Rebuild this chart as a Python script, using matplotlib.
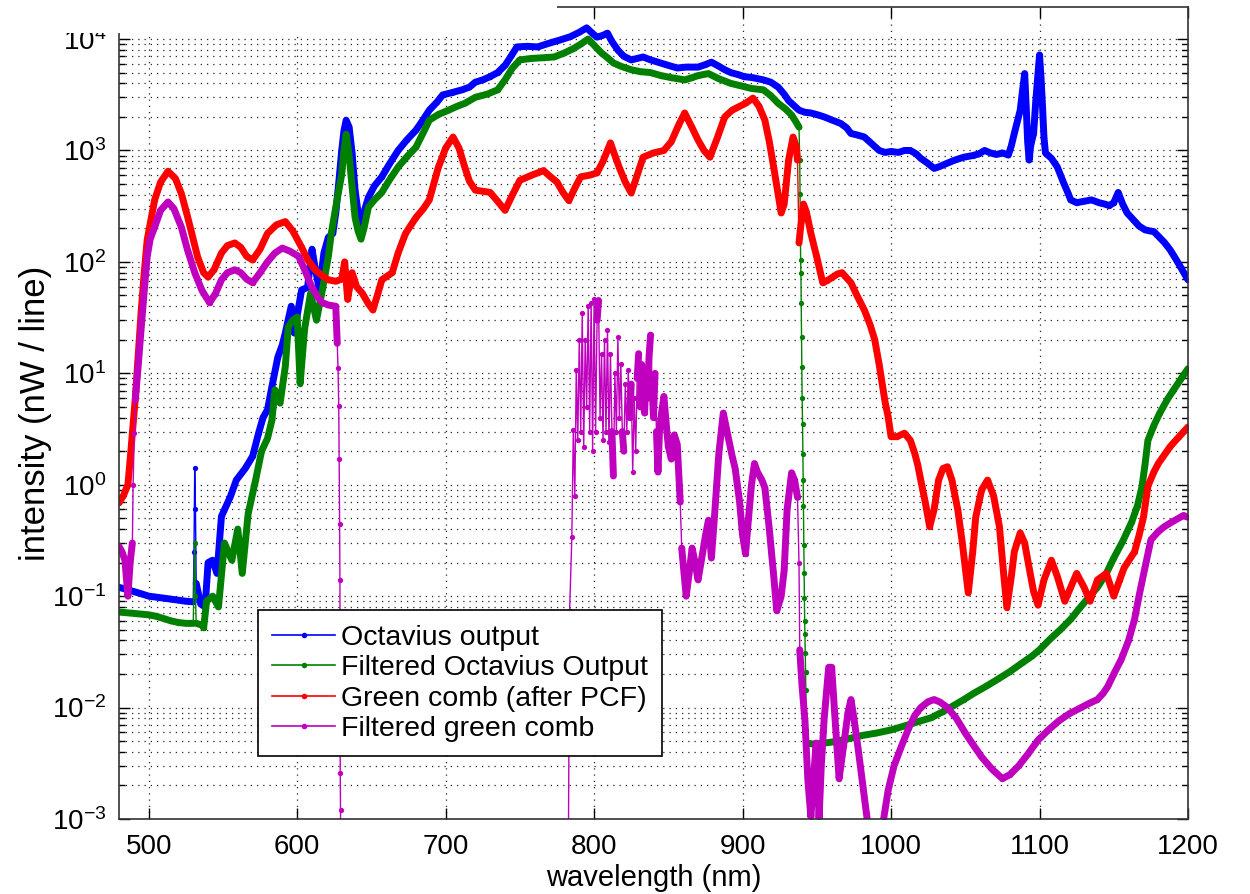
import matplotlib
matplotlib.use("Agg")
import matplotlib.pyplot as plt
import numpy as np
from matplotlib.lines import Line2D
from matplotlib.patches import Rectangle
from matplotlib.ticker import LogLocator, NullFormatter

plt.rcParams['font.family'] = ['Liberation Sans', 'DejaVu Sans']
plt.rcParams['mathtext.default'] = 'regular'

# --- data (wavelength nm, intensity nW/line) ---
blue_x = [480, 485, 490, 495, 500, 505, 510, 515, 520, 525, 530, 530.5, 531, 531.5, 532, 535, 538,
          540, 543, 546, 549, 555, 559, 565, 570, 574, 577, 580, 583, 587, 590, 592, 596, 598, 603,
          607, 610, 612, 615, 618, 621, 624, 626, 628, 630, 631.5, 633, 635, 637, 639, 641, 643, 645,
          648, 652, 657, 662, 668, 674, 680, 685, 689, 694, 698, 704, 711, 716, 720, 725, 730, 735,
          740, 744, 748, 755, 762, 770, 777, 784, 790, 795, 799, 802, 806, 809, 812, 816, 820, 825,
          829, 833, 838, 843, 850, 856, 862, 866, 870, 875, 879, 884, 888, 892, 897, 901, 907, 914,
          919, 924, 928, 931, 935, 938, 942, 946, 950, 955, 960, 966, 970, 973, 977, 982, 987, 992,
          996, 1000, 1005, 1009, 1013, 1017, 1020, 1024, 1029, 1033, 1038, 1043, 1049, 1055, 1059,
          1063, 1067, 1071, 1075, 1079, 1081, 1083, 1085, 1087, 1088.5, 1090, 1091, 1092, 1093, 1094,
          1096, 1097.5, 1099, 1100, 1101, 1102, 1103, 1104, 1108, 1112, 1116, 1119, 1121, 1125, 1130,
          1135, 1140, 1144, 1147, 1150, 1153, 1156, 1159, 1163, 1167, 1171, 1174, 1177, 1180, 1184,
          1188, 1192, 1196, 1200]
blue_y = [0.12, 0.115, 0.11, 0.105, 0.1, 0.098, 0.096, 0.094, 0.092, 0.09, 0.089, 0.25, 1.4, 0.6,
          0.13, 0.085, 0.08, 0.2, 0.21, 0.16, 0.52, 0.78, 1.1, 1.4, 1.8, 2.9, 4.0, 4.7, 7.6, 14, 18,
          23, 40, 23, 56, 59, 130, 90, 56, 120, 166, 180, 275, 510, 1000, 1500, 1870, 1620, 950, 440,
          280, 222, 280, 380, 480, 580, 750, 1000, 1250, 1520, 1900, 2300, 2700, 3150, 3300, 3500,
          3700, 4100, 4300, 4600, 5000, 5800, 7000, 8500, 8600, 8500, 9200, 9800, 10500, 11500, 12600,
          11200, 10400, 10800, 11300, 9500, 7950, 7000, 6500, 6700, 6900, 6500, 6200, 5800, 5500,
          5600, 5600, 5600, 5900, 6200, 5700, 5300, 5000, 4800, 4600, 4500, 4300, 4100, 3700, 3200,
          2800, 2500, 2300, 2200, 2170, 2100, 2000, 1880, 1750, 1600, 1420, 1380, 1320, 1150, 1000,
          960, 980, 960, 1000, 1000, 930, 850, 780, 690, 720, 770, 820, 870, 900, 930, 1000, 950, 920,
          950, 910, 1100, 1420, 1800, 2300, 3400, 4900, 2500, 1200, 820, 1100, 1420, 2800, 5000, 7200,
          4500, 2500, 1300, 950, 850, 710, 520, 420, 360, 340, 350, 360, 340, 330, 320, 340, 420, 330,
          275, 240, 210, 194, 190, 187, 170, 150, 128, 105, 85, 69]

green_x = [480, 490, 500, 505, 510, 515, 520, 525, 530, 531, 531.5, 532, 536, 537, 539, 543, 547, 551,
           556, 560, 563, 567, 572, 576, 580, 583, 585, 588.5, 592, 594, 597, 600, 602, 605, 609, 613,
           617, 621, 623, 626, 630, 631.5, 633, 635, 637, 639, 641, 643, 645, 648, 652, 657, 662, 668,
           674, 680, 685, 689, 695, 702, 708, 713, 720, 728, 735, 740, 745, 750, 758, 766, 773, 780,
           786, 791, 796, 800, 805, 809, 813, 818, 825, 831, 838, 845, 852, 861, 866, 870, 877, 884,
           892, 899, 906, 914, 919, 924, 929, 933, 936, 938, 938.5, 938.7, 938.9, 939.1, 939.3, 939.5,
           939.7, 939.9, 940.1, 940.4, 940.6, 940.8, 941.0, 941.2, 941.4, 941.6, 941.8, 942.0, 942.2,
           942.4, 942.6, 942.8, 943, 948, 955, 960, 970, 980, 990, 1000, 1010, 1020, 1027, 1035, 1042,
           1049, 1056, 1064, 1072, 1080, 1088, 1095, 1100, 1107, 1114, 1121, 1127, 1133, 1139, 1145,
           1150, 1156, 1162, 1166, 1169, 1171, 1173, 1177, 1181, 1186, 1190, 1195, 1200]
green_y = [0.072, 0.07, 0.068, 0.066, 0.063, 0.06, 0.058, 0.057, 0.057, 0.3, 0.1, 0.057, 0.055, 0.052,
           0.09, 0.1, 0.08, 0.3, 0.21, 0.4, 0.16, 0.55, 1.1, 2.0, 2.6, 3.8, 7.1, 5.4, 11.5, 26, 30, 32,
           8.1, 25, 52, 30, 56, 112, 180, 310, 610, 1000, 1400, 900, 470, 250, 190, 160, 200, 310, 360,
           420, 540, 710, 880, 1070, 1450, 1870, 2100, 2300, 2500, 2650, 3000, 3200, 3500, 4300, 5500,
           6500, 6700, 6800, 6900, 7500, 8200, 9000, 10000, 8800, 7500, 6800, 6100, 5700, 5300, 5100,
           5000, 4700, 4500, 4300, 4500, 4700, 4900, 4400, 4000, 3800, 3600, 3500, 3100, 2650, 2350,
           2080, 1800, 1620, 820, 410, 195, 104, 79, 43, 21, 11.5, 6, 3.5, 1.9, 1.1, 0.65, 0.29, 0.16,
           0.096, 0.06, 0.046, 0.031, 0.021, 0.0145, 0.0063, 0.0048, 0.0047, 0.0048, 0.0049, 0.0052,
           0.0056, 0.0059, 0.0063, 0.0069, 0.0076, 0.0081, 0.0092, 0.0104, 0.0118, 0.0135, 0.0155,
           0.018, 0.021, 0.025, 0.029, 0.033, 0.041, 0.05, 0.062, 0.078, 0.097, 0.12, 0.16, 0.22, 0.31,
           0.46, 0.65, 0.96, 1.5, 2.5, 3.4, 4.4, 5.8, 7.0, 8.8, 11]

red_x = [480, 483, 486, 488, 489, 491, 493, 495, 497, 499, 504, 508, 513, 518, 522, 526, 529, 533, 537,
         540, 544, 549, 553, 558, 562, 566, 570, 575, 580, 586, 592, 597, 603, 607, 612, 617, 621, 626,
         630, 632, 634, 637, 640, 644, 648, 651, 654, 657, 664, 668, 673, 680, 685, 689, 695, 700, 705,
         709, 713, 716, 720, 725, 730, 735, 740, 745, 750, 758, 766, 770, 775, 779, 783, 787, 791, 797,
         802, 806, 811, 814, 817, 821, 825, 829, 833, 840, 847, 852, 857, 861, 866, 870, 874, 878, 883,
         888, 893, 897, 902, 907, 911, 915, 918, 921, 924, 926, 928, 931, 934, 936, 937, 938, 939, 941,
         943, 946, 950, 954, 957, 960, 964, 967, 970, 973, 977, 982, 986, 989, 992, 994, 996, 998, 1000,
         1004, 1009, 1013, 1016, 1018, 1020, 1023, 1026, 1029, 1032, 1035, 1038, 1041, 1045, 1048, 1052,
         1055, 1057, 1061, 1065, 1069, 1073, 1076, 1078, 1081, 1083, 1087, 1090, 1093, 1096, 1099, 1103,
         1108, 1112, 1117, 1121, 1125, 1130, 1134, 1139, 1145, 1150, 1154, 1157, 1164, 1167, 1170, 1173,
         1177, 1180, 1188, 1194, 1200]
red_y = [0.69, 0.8, 1.0, 2.0, 2.9, 6.0, 15, 37, 80, 158, 360, 520, 650, 560, 410, 260, 180, 110, 80,
         73, 85, 120, 140, 148, 135, 112, 104, 130, 180, 215, 230, 190, 135, 105, 85, 75, 69, 67, 70,
         100, 46, 80, 60, 52, 42, 37, 50, 69, 80, 120, 180, 250, 300, 360, 700, 1050, 1320, 1050, 700,
         530, 440, 430, 420, 350, 290, 400, 540, 600, 660, 590, 520, 420, 355, 460, 580, 600, 630, 800,
         1170, 900, 700, 520, 415, 600, 870, 950, 1000, 1200, 1700, 2170, 1600, 1240, 1000, 870, 1300,
         2000, 2300, 2450, 2650, 2950, 2500, 1870, 1200, 700, 400, 275, 330, 820, 1320, 1100, 820, 148,
         200, 330, 280, 180, 110, 65, 68, 72, 78, 80, 72, 65, 50, 37, 27, 20, 12, 8.1, 5.5, 4.1, 2.7,
         2.7, 2.9, 2.5, 1.9, 1.5, 1.1, 0.7, 0.42, 0.6, 1.1, 1.4, 1.45, 1.1, 0.59, 0.3, 0.107, 0.25,
         0.51, 0.9, 1.1, 0.8, 0.42, 0.15, 0.079, 0.15, 0.25, 0.37, 0.3, 0.18, 0.11, 0.083, 0.14, 0.21,
         0.15, 0.09, 0.12, 0.16, 0.12, 0.09, 0.14, 0.16, 0.1, 0.14, 0.18, 0.25, 0.35, 0.51, 0.97, 1.3,
         1.55, 2.2, 2.7, 3.3]

mag_x = [480, 482, 484, 486, 487.5, 489, 489.5, 490.3, 491, 493, 495, 497, 499, 501, 504, 508, 513, 517,
         522, 526, 531, 536, 541, 545, 549, 553, 558, 562, 566, 570, 575, 580, 585, 590, 595, 601, 605,
         610, 614, 617, 621, 626, 627, 627.5, 628, 628.3, 628.6, 628.8, 629, 629.2, 630, 782, 783.5,
         785, 786, 787, 788, 789, 790, 791, 792, 793, 794, 795, 796, 797, 798, 799, 800, 801, 802, 803,
         804, 805, 806, 807, 808, 809, 810, 811, 812, 813, 814, 815, 816, 817, 818, 819, 820, 821, 822,
         823, 824, 825, 826, 827, 828, 829, 830, 831, 832, 833, 834, 835, 836, 837, 838, 839, 840, 841,
         842, 843, 844, 845, 847, 849, 850, 852, 854, 856, 858, 859, 862, 864, 866, 868, 870, 872, 875,
         877, 879, 881, 884, 887, 890, 893, 895, 898, 900, 902, 904, 906, 908, 910, 913, 915, 918, 921,
         923, 926, 928, 930, 933, 935, 937, 938, 938.5, 940, 942, 944, 946, 948, 949.5, 950.5, 951.5,
         953, 955, 958, 960, 962, 965, 968, 971, 973, 975, 978, 981, 983.5, 989, 995, 998, 1002, 1007,
         1012, 1016, 1020, 1025, 1029, 1033, 1038, 1044, 1050, 1055, 1061, 1068, 1075, 1080, 1086, 1092,
         1099, 1106, 1113, 1120, 1128, 1134, 1139, 1143, 1146, 1150, 1155, 1160, 1164, 1167, 1171, 1175,
         1180, 1184, 1190, 1197, 1200]
mag_y = [0.28, 0.25, 0.21, 0.1, 0.2, 0.3, 1.0, 2.9, 5.8, 12, 26, 55, 112, 160, 205, 290, 345, 300, 205,
         130, 80, 55, 43, 52, 69, 80, 85, 80, 70, 65, 80, 100, 120, 133, 125, 112, 85, 59, 48, 43, 41,
         40, 18.6, 11.2, 5.1, 1.7, 0.44, 0.14, 0.0026, 0.0012, 1e-5, 1e-5, 0.074, 0.34, 3.1, 0.8, 10.7,
         2.5, 20, 3, 35, 2.2, 20, 5, 40, 3, 43, 2.0, 46, 3, 30, 45, 4, 15, 2.5, 20, 3, 24.6, 2.4, 15, 3,
         1.2, 10, 3, 21, 4, 12, 3, 2.0, 8, 3, 10.7, 4, 8, 1.3, 6, 2, 9, 15, 5, 12, 6, 4.4, 10, 6, 14, 22,
         8, 4, 10, 3, 1.3, 3, 4, 6.2, 3, 2.2, 1.7, 2.8, 2.3, 0.7, 0.27, 0.1, 0.16, 0.27, 0.2, 0.14, 0.2,
         0.35, 0.48, 0.22, 0.5, 1.9, 4.4, 2.8, 1.8, 1.4, 0.7, 0.35, 0.24, 0.5, 1.0, 1.55, 1.3, 1.1, 0.94,
         0.4, 0.15, 0.074, 0.1, 0.17, 0.6, 1.28, 1.1, 0.77, 0.2, 0.033, 0.016, 0.0076, 0.0022, 0.00104,
         0.0025, 0.0048, 0.0025, 0.001, 0.003, 0.0081, 0.023, 0.023, 0.009, 0.0023, 0.0045, 0.009,
         0.0118, 0.008, 0.0041, 0.002, 0.0011, 0.0003, 0.001, 0.0018, 0.003, 0.0045, 0.0066, 0.0085,
         0.01, 0.0113, 0.0118, 0.0112, 0.01, 0.008, 0.0059, 0.0047, 0.0036, 0.0028, 0.0023, 0.0025,
         0.003, 0.0038, 0.0051, 0.0063, 0.0076, 0.0088, 0.01, 0.011, 0.0118, 0.0135, 0.0155, 0.02,
         0.027, 0.04, 0.062, 0.1, 0.18, 0.32, 0.38, 0.42, 0.47, 0.53, 0.51]

labels = ['Octavius output', 'Filtered Octavius Output', 'Green comb (after PCF)', 'Filtered green comb']
colors = ['#0000ff', '#008000', '#ff0000', '#bf00bf']


def draw_series(ax, x, y, color):
    x = np.asarray(x, float)
    y = np.asarray(y, float)
    # thin line with dot markers everywhere (like the MATLAB '.-' style)
    ax.plot(x, y, '-', color=color, lw=1.0, marker='o', ms=3.8, mew=0, zorder=2)
    # dense parts of the spectrum look like a thick band -> thick line on gentle segments
    slope = np.abs(np.diff(np.log10(y))) / np.diff(x)
    ok = slope < 0.4
    i = 0
    while i < len(ok):
        if ok[i]:
            j = i
            while j < len(ok) and ok[j]:
                j += 1
            ax.plot(x[i:j + 1], y[i:j + 1], '-', color=color, lw=5,
                    solid_capstyle='round', solid_joinstyle='round', zorder=2)
            i = j
        else:
            i += 1


fig = plt.figure(figsize=(12.5, 8.94), dpi=100)
ax = fig.add_axes([0.0952, 0.0839, 0.8552, 0.9083])

for (x, y), c in zip([(blue_x, blue_y), (green_x, green_y), (red_x, red_y), (mag_x, mag_y)], colors):
    draw_series(ax, x, y, c)

ax.set_yscale('log')
ax.set_xlim(480, 1200)
ax.set_ylim(1e-3, 1.94e4)
ax.set_xticks([500, 600, 700, 800, 900, 1000, 1100, 1200])
ax.yaxis.set_major_locator(LogLocator(base=10, numticks=12))
ax.yaxis.set_minor_locator(LogLocator(base=10, subs=np.arange(2, 10), numticks=12))
ax.yaxis.set_minor_formatter(NullFormatter())

ax.tick_params(which='both', direction='in', top=True, right=True, labelsize=20)
ax.tick_params(which='major', length=8, width=1)
ax.tick_params(which='minor', length=4, width=1)
ax.tick_params(axis='x', pad=11)
ax.tick_params(axis='y', pad=9)

dots = (0, (1, 4))
ax.grid(True, which='major', color='0.15', lw=0.9, linestyle=dots)
ax.yaxis.grid(True, which='minor', color='0.15', lw=0.9, linestyle=dots)
ax.set_axisbelow(True)
for s in ax.spines.values():
    s.set_linewidth(1.2)
    s.set_color('0.2')

ax.set_xlabel('wavelength (nm)', fontsize=21, labelpad=3)
ax.set_ylabel('intensity (nW / line)', fontsize=25, labelpad=0)

handles = [Line2D([], [], color=c, lw=1.2, marker='o', ms=4, mew=0) for c in colors]
leg = ax.legend(handles, labels, loc='upper left', bbox_to_anchor=(0.130, 0.257), fontsize=20.5,
                fancybox=False, framealpha=1, edgecolor='black', handlelength=2.2,
                handletextpad=0.2, labelspacing=0.16, borderpad=0.5, borderaxespad=0)
leg.get_frame().set_linewidth(1.2)

# the reference screenshot has its top-left corner blanked out
fig.add_artist(Rectangle((0, 1 - 33 / 894), 557 / 1250, 33 / 894, transform=fig.transFigure,
                         facecolor='white', edgecolor='none', zorder=10))

fig.savefig('out.png', dpi=100)
